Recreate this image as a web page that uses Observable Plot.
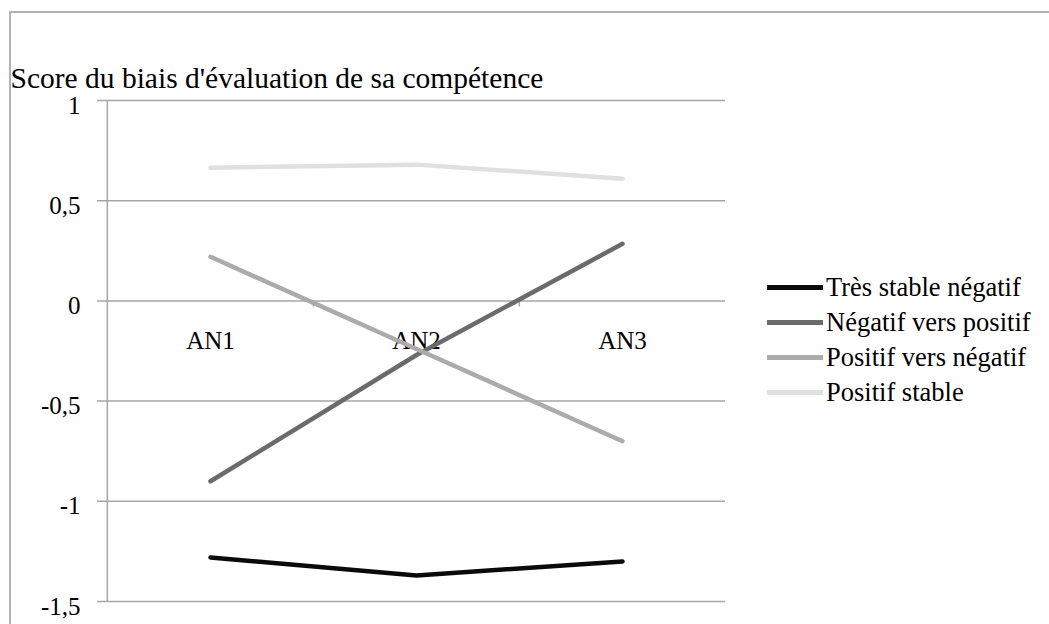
<!DOCTYPE html>
<html>
<head>
<meta charset="utf-8">
<script src="https://cdn.jsdelivr.net/npm/d3@7"></script>
<script src="https://cdn.jsdelivr.net/npm/@observablehq/plot@0.6"></script>
<style>
  html, body { margin: 0; padding: 0; background: #fff; }
  #wrap { position: relative; width: 1049px; height: 624px; overflow: hidden; font-family: "Liberation Serif", "Times New Roman", serif; }
  #border { position: absolute; left: 9px; top: 11px; width: 1200px; height: 800px; border-left: 2px solid #b3b3b3; border-top: 2px solid #b3b3b3; }
  #chart { position: absolute; left: 0; top: 0; }
  #legend { position: absolute; left: 767px; top: 270px; }
  .row { display: flex; align-items: center; height: 35px; font-size: 26.5px; color: #000; white-space: nowrap; }
  .swatch { width: 56px; height: 4.5px; margin-right: 3px; }
</style>
</head>
<body>
<div id="wrap">
  <div id="border"></div>
  <div id="chart"></div>
  <div id="legend"></div>
</div>
<script>
const titleText = "Score du biais d'évaluation de sa compétence";
const categories = ["AN1", "AN2", "AN3"];
const seriesNames = ["Très stable négatif", "Négatif vers positif", "Positif vers négatif", "Positif stable"];
const tresStableNegatif = [-1.28, -1.37, -1.30];
const negatifVersPositif = [-0.90, -0.27, 0.285];
const positifVersNegatif = [0.22, -0.24, -0.70];
const positifStable = [0.665, 0.68, 0.61];
const seriesColors = ["#0a0a0a", "#6b6b6b", "#ababab", "#e0e0e0"];
const yTicks = [-1.5, -1, -0.5, 0, 0.5, 1];

const seriesValues = [tresStableNegatif, negatifVersPositif, positifVersNegatif, positifStable];
const rows = [];
seriesNames.forEach((s, si) => categories.forEach((c, ci) => rows.push({series: s, cat: c, value: seriesValues[si][ci]})));

const W = 1049, H = 624, ML = 106, MR = 324, MT = 100, MB = 23;
const step = (W - ML - MR) / categories.length;
const grid = "#a6a6a6";
const fmt = d => String(d).replace(".", ",");

const chart = Plot.plot({
  width: W, height: H,
  marginLeft: ML, marginRight: MR, marginTop: MT, marginBottom: MB,
  style: {fontFamily: "'Liberation Serif', 'Times New Roman', serif", fontSize: "25px", color: "#000", background: "transparent", overflow: "visible"},
  x: {type: "point", domain: categories, padding: 0.5, axis: null},
  y: {domain: [-1.5, 1], axis: null},
  color: {domain: seriesNames, range: seriesColors},
  marks: [
    Plot.ruleY(yTicks, {y: d => d, stroke: grid, strokeWidth: 1.5, insetLeft: -9}),
    Plot.ruleX([categories[0]], {x: d => d, dx: -step / 2, stroke: grid, strokeWidth: 1.5}),
    Plot.ruleX(categories.slice(1), {x: d => d, y1: 0, y2: 0, insetBottom: -6, dx: -step / 2, stroke: grid, strokeWidth: 1.5}),
    Plot.text(yTicks, {y: d => d, frameAnchor: "left", dx: -26, dy: 5, textAnchor: "end", lineAnchor: "middle", text: fmt, fill: "#000"}),
    Plot.text(categories, {x: d => d, y: 0, dy: 40, lineAnchor: "middle", text: d => d, fill: "#000"}),
    Plot.text([titleText], {frameAnchor: "top-left", dx: -96, dy: -22, textAnchor: "start", lineAnchor: "middle", text: d => d, fontSize: 29.5, fill: "#000"}),
    Plot.line(rows, {x: "cat", y: "value", z: "series", stroke: "series", strokeWidth: 4.5, strokeLinecap: "round", strokeLinejoin: "round"})
  ]
});
document.getElementById("chart").appendChild(chart);

const legend = document.getElementById("legend");
seriesNames.forEach((s, i) => {
  const row = document.createElement("div");
  row.className = "row";
  const sw = document.createElement("span");
  sw.className = "swatch";
  sw.style.background = seriesColors[i];
  const t = document.createElement("span");
  t.textContent = s;
  row.appendChild(sw);
  row.appendChild(t);
  legend.appendChild(row);
});
</script>
</body>
</html>
